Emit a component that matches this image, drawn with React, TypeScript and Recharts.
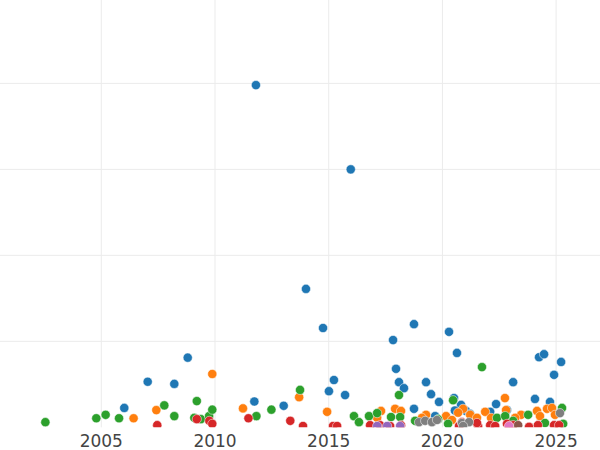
import { ScatterChart, Scatter, XAxis, YAxis, CartesianGrid } from 'recharts';

// axis setup
const X_DOMAIN = [2000.545, 2026.93];
const X_TICKS = [2005, 2010, 2015, 2020, 2025];
const Y_DOMAIN = [0, 99.4];
const Y_TICKS = [20, 40, 60, 80];

// [year, value]
const blue: [number, number][] = [
  [2011.8, 79.6], [2015.97, 60.0], [2014.0, 32.2], [2014.75, 23.1], [2017.83, 20.3],
  [2018.75, 24.0], [2020.29, 22.2], [2020.64, 17.3], [2008.8, 16.2], [2007.04, 10.6],
  [2008.21, 10.1], [2006.01, 4.5], [2011.73, 6.0], [2013.02, 5.0], [2015.01, 8.4],
  [2015.23, 11.0], [2015.72, 7.5], [2017.96, 13.6], [2018.09, 10.5], [2018.31, 9.1],
  [2018.75, 4.3], [2019.28, 10.5], [2019.5, 7.7], [2019.85, 5.9], [2020.51, 6.8],
  [2020.82, 5.2], [2022.36, 5.4], [2023.11, 10.5], [2024.07, 6.6], [2024.25, 16.3],
  [2024.47, 17.0], [2024.91, 12.2], [2025.22, 15.2], [2024.73, 5.9], [2019.68, 2.6],
  [2022.1, 3.6], [2022.84, 4.0], [2021.04, 3.8], [2021.22, 3.1], [2020.55, 3.9],
];

const orange: [number, number][] = [
  [2009.88, 12.4], [2007.42, 4.0], [2006.42, 2.1], [2011.23, 4.4], [2013.7, 7.0],
  [2014.93, 3.6], [2017.3, 3.8], [2017.92, 4.3], [2018.18, 3.8], [2019.28, 2.9],
  [2020.16, 2.6], [2020.91, 4.3], [2021.22, 2.9], [2021.88, 3.6], [2022.75, 6.8],
  [2022.8, 4.0], [2023.46, 2.9], [2024.16, 3.8], [2024.6, 4.3], [2024.82, 4.5],
  [2024.95, 2.9], [2017.13, 2.2], [2019.1, 2.2], [2020.42, 1.7], [2024.29, 2.6],
  [2021.52, 2.2], [2022.14, 2.2], [2023.2, 2.2], [2020.69, 3.4],
];

const green: [number, number][] = [
  [2002.54, 1.2], [2004.78, 2.1], [2005.19, 2.9], [2005.78, 2.1], [2007.77, 5.1],
  [2008.21, 2.6], [2009.2, 6.1], [2009.09, 2.2], [2009.38, 1.9], [2009.74, 2.6],
  [2009.88, 4.1], [2011.82, 2.6], [2012.48, 4.1], [2013.74, 8.7], [2016.11, 2.6],
  [2016.33, 1.2], [2016.77, 2.6], [2017.13, 3.3], [2017.74, 2.4], [2018.09, 7.5],
  [2018.14, 2.4], [2018.8, 1.5], [2019.81, 1.9], [2020.25, 0.8], [2020.47, 6.3],
  [2021.74, 14.0], [2022.4, 2.2], [2022.76, 2.6], [2023.11, 1.5], [2023.77, 2.9],
  [2024.51, 1.0], [2025.26, 4.5], [2025.31, 0.8],
];

const red: [number, number][] = [
  [2007.46, 0.5], [2009.2, 1.9], [2009.75, 1.5], [2009.88, 0.8], [2011.47, 2.1],
  [2013.31, 1.5], [2013.87, 0.3], [2015.19, 0.3], [2015.37, 0.3], [2016.82, 0.5],
  [2017.26, 0.5], [2017.7, 0.3], [2018.18, 0.5], [2020.73, 0.3], [2020.86, 1.2],
  [2021.57, 0.3], [2022.1, 0.5], [2022.32, 0.3], [2023.11, 0.5], [2023.81, 0.1],
  [2024.2, 0.5], [2024.91, 0.5], [2025.13, 0.5], [2021.52, 1.0], [2022.84, 0.8],
];

const purple: [number, number][] = [[2017.13, 0.3], [2017.57, 0.3], [2018.14, 0.3]];
const brown: [number, number][] = [[2023.33, 0.5]];
const pink: [number, number][] = [[2022.93, 0.3]];

const gray: [number, number][] = [
  [2018.97, 1.2], [2019.24, 1.5], [2019.54, 1.2], [2019.76, 1.7], [2020.86, 1.0],
  [2021.17, 1.2], [2020.91, 0.3], [2025.17, 3.3],
];

const SERIES = [
  { name: 'blue', color: '#1f77b4', points: blue },
  { name: 'orange', color: '#ff7f0e', points: orange },
  { name: 'green', color: '#2ca02c', points: green },
  { name: 'red', color: '#d62728', points: red },
  { name: 'purple', color: '#9467bd', points: purple },
  { name: 'brown', color: '#8c564b', points: brown },
  { name: 'pink', color: '#e377c2', points: pink },
  { name: 'gray', color: '#7f7f7f', points: gray },
];

const makeDot = (color: string) => (props: any) => (
  <circle cx={props.cx} cy={props.cy} r={4.6} fill={color} stroke="#ffffff" strokeWidth={0.5} />
);

export default function App() {
  return (
    <div style={{ position: 'absolute', left: 0, top: 0 }}>
      <ScatterChart width={600} height={450} margin={{ top: 0, right: 0, bottom: 0, left: 0 }}>
        {/* syncWithTicks keeps the grid off the plot edges */}
        <CartesianGrid stroke="#ebebeb" strokeWidth={1} syncWithTicks />
        <XAxis
          type="number"
          dataKey="x"
          domain={X_DOMAIN}
          ticks={X_TICKS}
          allowDataOverflow
          axisLine={false}
          tickLine={false}
          height={22.7}
          tick={{ fontSize: 17, fill: '#444444', fontFamily: 'DejaVu Sans' }}
        />
        <YAxis type="number" dataKey="y" domain={Y_DOMAIN} ticks={Y_TICKS} allowDataOverflow hide />
        {SERIES.map((s) => (
          <Scatter
            key={s.name}
            name={s.name}
            data={s.points.map(([x, y]) => ({ x, y }))}
            fill={s.color}
            shape={makeDot(s.color)}
            isAnimationActive={false}
          />
        ))}
      </ScatterChart>
    </div>
  );
}
